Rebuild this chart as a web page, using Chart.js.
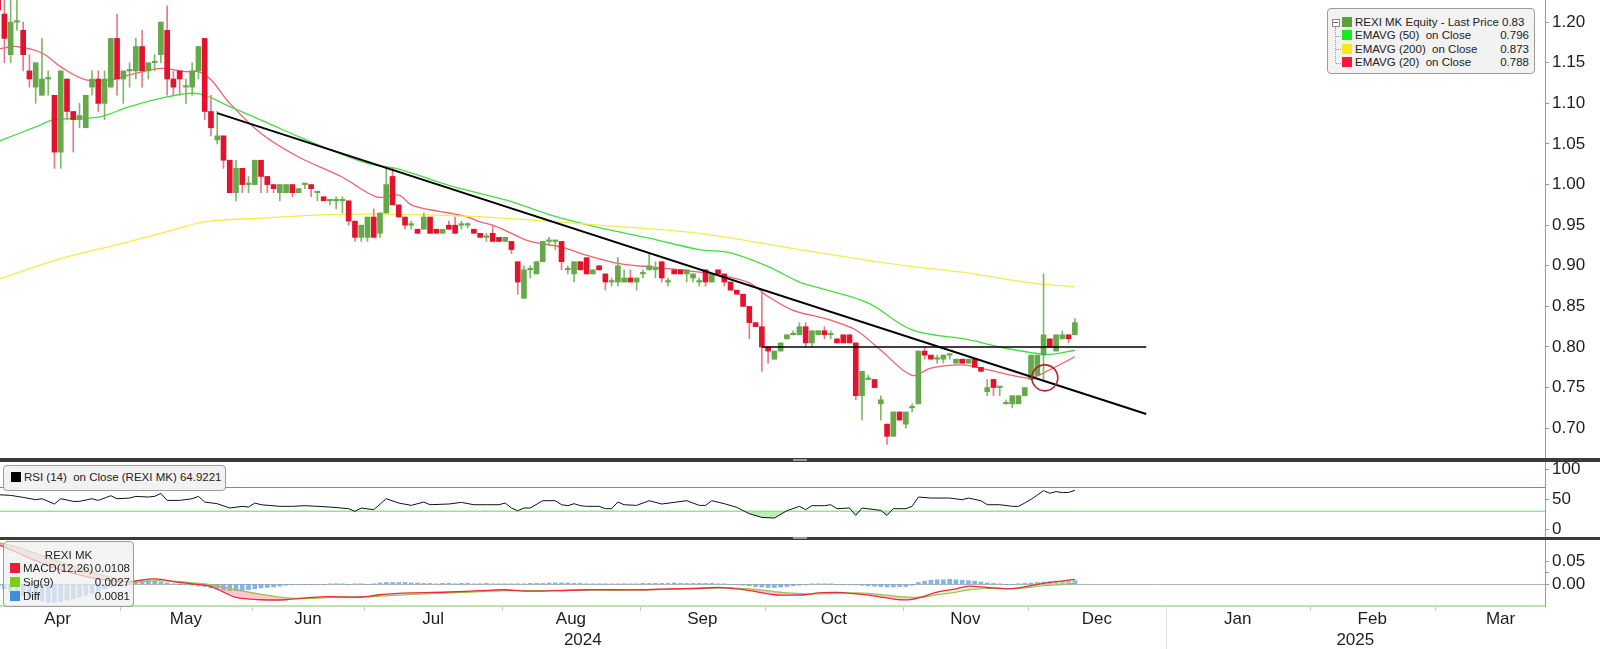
<!DOCTYPE html>
<html>
<head>
<meta charset="utf-8">
<script src="https://cdn.jsdelivr.net/npm/chart.js@4.4.1/dist/chart.umd.min.js"></script>
<style>
body { margin: 0; background: #fff; }
#wrap { position: relative; width: 1600px; height: 649px; overflow: hidden; font-family: 'Liberation Sans', Arial, sans-serif; color: #222; }
canvas { position: absolute; left: 0; }
.sep { position: absolute; left: 0; width: 1600px; background: #3a3a3a; }
.grip { position: absolute; left: 793px; width: 14px; height: 2px; background: #9a9a9a; }
.box { position: absolute; border: 1px solid #9c9c9c; border-radius: 4px; background: #f2f2f2; font-size: 11.5px; }
.row { position: absolute; left: 0; right: 0; height: 13px; line-height: 13px; white-space: pre; }
.sq { position: absolute; width: 10px; height: 10px; top: 1px; }
.val { position: absolute; right: 5px; top: 0; }
</style>
</head>
<body>
<div id="wrap">
  <canvas id="main" width="1600" height="458" style="top:0"></canvas>
  <div class="sep" style="top:458px;height:4px"></div>
  <div class="grip" style="top:459px"></div>
  <canvas id="rsi" width="1600" height="75" style="top:462px"></canvas>
  <div class="sep" style="top:537px;height:3px"></div>
  <div class="grip" style="top:537px"></div>
  <canvas id="macd" width="1600" height="109" style="top:540px"></canvas>

  <!-- price legend -->
  <div class="box" style="left:1327px;top:8px;width:206px;height:64px;">
    <div style="position:absolute;left:4px;top:10px;width:6px;height:6px;border:1px solid #888;background:#fff;"></div>
    <div style="position:absolute;left:5px;top:13px;width:5px;height:1px;background:#666;"></div>
    <div style="position:absolute;left:7px;top:18px;width:0;height:36px;border-left:1px dotted #999;"></div>
    <div style="position:absolute;left:8px;top:27px;width:5px;height:0;border-top:1px dotted #999;"></div>
    <div style="position:absolute;left:8px;top:40px;width:5px;height:0;border-top:1px dotted #999;"></div>
    <div style="position:absolute;left:8px;top:54px;width:5px;height:0;border-top:1px dotted #999;"></div>
    <div class="row" style="top:7px"><div class="sq" style="left:14px;background:#5f9d45"></div><span style="position:absolute;left:27px">REXI MK Equity - Last Price 0.83</span></div>
    <div class="row" style="top:20px"><div class="sq" style="left:14px;background:#1ee61e"></div><span style="position:absolute;left:27px">EMAVG (50)  on Close</span><span class="val">0.796</span></div>
    <div class="row" style="top:34px"><div class="sq" style="left:14px;background:#ffe51c"></div><span style="position:absolute;left:27px">EMAVG (200)  on Close</span><span class="val">0.873</span></div>
    <div class="row" style="top:47px"><div class="sq" style="left:14px;background:#ee1a3a"></div><span style="position:absolute;left:27px">EMAVG (20)  on Close</span><span class="val">0.788</span></div>
  </div>

  <!-- RSI legend -->
  <div class="box" style="left:3px;top:465px;width:221px;height:24px;">
    <div class="row" style="top:5px"><div class="sq" style="left:7px;background:#000"></div><span style="position:absolute;left:20px">RSI (14)  on Close (REXI MK) 64.9221</span></div>
  </div>

  <!-- MACD legend -->
  <div class="box" style="left:3px;top:541px;width:129px;height:64px;background:rgba(238,238,238,0.72);">
    <div class="row" style="top:7px;text-align:center">REXI MK</div>
    <div class="row" style="top:20px"><div class="sq" style="left:6px;background:#ee1a3a"></div><span style="position:absolute;left:19px">MACD(12,26)</span><span class="val" style="right:3px">0.0108</span></div>
    <div class="row" style="top:34px"><div class="sq" style="left:6px;background:#7ccc1e"></div><span style="position:absolute;left:19px">Sig(9)</span><span class="val" style="right:3px">0.0027</span></div>
    <div class="row" style="top:48px"><div class="sq" style="left:6px;background:#3f8fe0"></div><span style="position:absolute;left:19px">Diff</span><span class="val" style="right:3px">0.0081</span></div>
  </div>
</div>

<script>
// months shown on the time axis and trading days in each
var months = ["Apr", "May", "Jun", "Jul", "Aug", "Sep", "Oct", "Nov", "Dec", "Jan", "Feb", "Mar"];
var monthDays = [20, 21, 18, 22, 22, 20, 22, 20, 22, 23, 20, 21];
var years = ["2024", "2025"];
var yearFirstMonth = [0, 9];

// daily candles, one per trading day from early April 2024
var opens = [1.25,1.21,1.16,1.20,1.19,1.14,1.12,1.11,1.13,1.11,1.04,1.13,1.09,1.08,1.07,1.12,1.13,1.10,1.12,1.18,
  1.13,1.14,1.14,1.17,1.14,1.15,1.16,1.19,1.13,1.14,1.12,1.12,1.14,1.18,1.09,1.055,1.06,1.03,0.99,1.02,
  1.00,1.00,1.03,1.01,1.00,0.99,0.99,1.00,0.99,1.00,1.00,0.99,0.985,0.98,0.98,0.98,0.98,0.955,0.935,0.935,
  0.96,0.94,0.965,1.01,0.975,0.96,0.95,0.945,0.945,0.96,0.945,0.94,0.95,0.95,0.95,0.95,0.945,0.94,0.935,0.94,
  0.935,0.93,0.93,0.905,0.86,0.895,0.89,0.905,0.93,0.93,0.93,0.895,0.89,0.905,0.91,0.89,0.90,0.89,0.88,0.88,
  0.88,0.885,0.88,0.89,0.895,0.895,0.905,0.88,0.895,0.895,0.89,0.885,0.88,0.895,0.88,0.895,0.89,0.88,0.87,0.865,
  0.85,0.83,0.825,0.80,0.785,0.795,0.81,0.815,0.815,0.825,0.805,0.815,0.82,0.815,0.81,0.815,0.815,0.805,0.74,0.76,
  0.76,0.73,0.705,0.69,0.72,0.705,0.725,0.73,0.795,0.79,0.785,0.785,0.79,0.78,0.785,0.78,0.785,0.775,0.745,0.76,
  0.75,0.73,0.73,0.73,0.74,0.76,0.765,0.79,0.81,0.795,0.81,0.815,0.815];
var highs = [1.26,1.23,1.23,1.23,1.20,1.16,1.15,1.18,1.14,1.11,1.14,1.13,1.09,1.10,1.11,1.14,1.14,1.14,1.18,1.21,
  1.14,1.15,1.18,1.19,1.15,1.16,1.20,1.22,1.14,1.14,1.13,1.15,1.17,1.18,1.11,1.09,1.06,1.03,1.03,1.02,
  1.01,1.03,1.03,1.01,1.00,1.00,1.00,1.00,0.995,1.00,1.00,0.99,0.985,0.98,0.985,0.985,0.98,0.955,0.95,0.96,
  0.97,0.965,1.02,1.02,0.975,0.96,0.955,0.945,0.965,0.96,0.945,0.945,0.955,0.96,0.955,0.953,0.945,0.94,0.94,0.95,
  0.935,0.935,0.93,0.905,0.90,0.90,0.905,0.93,0.935,0.93,0.93,0.90,0.905,0.905,0.91,0.895,0.90,0.89,0.885,0.91,
  0.895,0.895,0.885,0.895,0.915,0.905,0.905,0.885,0.895,0.895,0.895,0.89,0.885,0.895,0.89,0.895,0.89,0.88,0.87,0.865,
  0.85,0.83,0.87,0.80,0.795,0.805,0.815,0.82,0.83,0.83,0.82,0.82,0.825,0.82,0.81,0.815,0.815,0.805,0.77,0.765,
  0.76,0.74,0.705,0.72,0.72,0.72,0.73,0.795,0.80,0.79,0.79,0.79,0.79,0.785,0.785,0.785,0.785,0.775,0.76,0.76,
  0.75,0.735,0.74,0.74,0.75,0.79,0.79,0.89,0.81,0.815,0.82,0.815,0.835];
var lows = [1.205,1.15,1.15,1.19,1.14,1.12,1.10,1.11,1.11,1.02,1.02,1.08,1.04,1.07,1.07,1.11,1.09,1.08,1.12,1.11,
  1.10,1.12,1.13,1.12,1.13,1.14,1.15,1.11,1.11,1.11,1.10,1.11,1.13,1.08,1.06,1.05,1.02,0.99,0.98,0.99,
  0.99,1.00,0.99,0.99,0.99,0.98,0.99,0.985,0.99,0.995,0.985,0.98,0.98,0.975,0.97,0.965,0.95,0.93,0.93,0.93,
  0.935,0.935,0.965,0.975,0.96,0.945,0.945,0.94,0.945,0.94,0.94,0.94,0.945,0.94,0.945,0.947,0.94,0.935,0.93,0.93,
  0.93,0.93,0.915,0.865,0.86,0.885,0.89,0.905,0.925,0.92,0.895,0.89,0.88,0.895,0.89,0.89,0.895,0.87,0.875,0.875,
  0.88,0.88,0.87,0.885,0.895,0.885,0.88,0.875,0.89,0.89,0.88,0.88,0.875,0.875,0.88,0.89,0.875,0.87,0.865,0.85,
  0.81,0.825,0.77,0.78,0.785,0.795,0.81,0.815,0.815,0.80,0.80,0.815,0.81,0.81,0.805,0.805,0.805,0.735,0.71,0.76,
  0.75,0.71,0.68,0.69,0.71,0.70,0.72,0.73,0.785,0.785,0.78,0.78,0.785,0.78,0.78,0.78,0.775,0.77,0.74,0.74,
  0.74,0.73,0.725,0.73,0.74,0.76,0.765,0.76,0.80,0.795,0.81,0.805,0.815];
var closes = [1.215,1.18,1.20,1.20,1.16,1.13,1.15,1.13,1.13,1.04,1.14,1.09,1.08,1.085,1.11,1.13,1.10,1.13,1.18,1.13,
  1.14,1.14,1.17,1.14,1.15,1.15,1.20,1.13,1.12,1.13,1.12,1.14,1.17,1.09,1.07,1.06,1.03,0.99,1.02,1.00,
  1.00,1.03,1.01,1.00,0.995,1.00,1.00,0.99,0.995,1.00,0.995,0.99,0.98,0.98,0.98,0.98,0.955,0.935,0.95,0.96,
  0.935,0.965,1.00,0.975,0.96,0.95,0.95,0.94,0.96,0.94,0.94,0.945,0.945,0.94,0.95,0.95,0.94,0.935,0.935,0.93,
  0.93,0.935,0.92,0.88,0.895,0.895,0.905,0.93,0.93,0.93,0.905,0.895,0.905,0.895,0.89,0.895,0.895,0.88,0.88,0.90,
  0.885,0.88,0.885,0.89,0.90,0.895,0.885,0.88,0.89,0.89,0.895,0.89,0.88,0.88,0.89,0.89,0.88,0.87,0.865,0.85,
  0.83,0.825,0.80,0.795,0.795,0.805,0.815,0.815,0.825,0.805,0.82,0.82,0.815,0.815,0.805,0.805,0.805,0.74,0.77,0.76,
  0.75,0.735,0.69,0.72,0.71,0.72,0.725,0.795,0.79,0.785,0.785,0.79,0.79,0.785,0.78,0.785,0.775,0.77,0.75,0.75,
  0.75,0.73,0.74,0.74,0.75,0.79,0.79,0.815,0.80,0.815,0.815,0.81,0.83];

// moving averages (day index, value)
var ema20X = [0,3,7,10,14,18,21,26,30,32,34,37,42,48,55,59,61,64,66,69,72,75,77,79,82,85,90,94,99,105,110,115,120,123,127,131,133,137,141,146,149,154,158,162,165,168,172];
var ema20 = [1.167,1.170,1.162,1.145,1.129,1.129,1.135,1.143,1.139,1.139,1.129,1.100,1.063,1.034,1.009,0.990,0.984,0.987,0.975,0.969,0.965,0.960,0.954,0.950,0.940,0.930,0.923,0.913,0.903,0.898,0.894,0.889,0.879,0.862,0.845,0.837,0.833,0.821,0.796,0.765,0.774,0.778,0.772,0.765,0.762,0.772,0.788];
var ema50X = [0,6,9,16,21,27,32,37,43,48,53,59,64,72,82,88,96,104,112,117,123,128,131,139,146,155,160,165,168,172];
var ema50 = [1.053,1.071,1.080,1.083,1.096,1.108,1.112,1.096,1.076,1.059,1.043,1.026,1.019,0.999,0.979,0.963,0.947,0.934,0.920,0.916,0.899,0.880,0.873,0.854,0.821,0.809,0.800,0.793,0.791,0.796];
var ema200X = [0,6,11,20,27,33,43,53,67,80,96,112,128,144,155,165,172];
var ema200 = [0.883,0.899,0.911,0.928,0.942,0.954,0.959,0.963,0.963,0.959,0.950,0.940,0.920,0.901,0.891,0.879,0.874];

// drawn annotations (day index, price)
var trendX = [35, 183.4];
var trendY = [1.088, 0.7175];
var supportX = [122, 183.4];
var supportY = [0.80, 0.80];
var circleX = [167.2];
var circleY = [0.762];

// RSI (14)
var rsiX = [0,2,4,6,7,9,10,12,13,15,16,18,19,21,22,24,25,26,27,29,31,32,33,35,37,39,40,41,42,45,47,49,51,53,56,57,58,60,62,64,66,68,69,72,74,76,78,80,81,82,83,84,85,87,89,90,91,92,93,94,96,97,98,99,100,102,104,106,108,110,112,113,114,116,118,120,122,124,126,128,129,130,132,133,134,136,137,138,141,142,143,145,146,147,149,152,154,155,157,158,160,162,163,164,165,166,167,168,169,170,171,172];
var rsiVals = [57.7,56.6,53.2,49.4,51.0,42.2,51.0,46.6,46.6,51.0,48.2,56.0,51.0,52.1,54.9,53.8,54.9,59.9,48.2,48.2,51.0,54.9,45.5,42.7,35.5,38.3,37.1,43.8,41.0,38.3,38.3,39.4,38.3,37.1,34.4,29.9,35.5,32.7,51.0,43.8,39.9,45.5,41.0,42.2,44.9,41.0,41.0,41.0,43.8,35.5,31.0,35.5,35.5,47.7,47.7,41.0,39.4,42.7,39.4,38.3,38.3,34.4,34.4,45.5,41.0,39.9,47.7,42.2,44.9,47.7,39.9,39.9,47.7,42.7,36.6,26.0,19.9,18.8,31.0,38.3,32.7,39.4,39.4,41.0,34.4,35.5,23.2,35.5,31.6,23.2,34.4,34.4,38.3,53.8,52.1,52.1,49.4,52.1,47.7,41.0,41.0,38.3,38.3,43.8,50.0,57.0,64.5,60.1,62.9,61.2,61.5,64.9];
var rsiUpper = 70;
var rsiLower = 30;

// MACD (12,26), signal (9) and their difference
var macdX = [0,3,6,9,12,15,18,21,25,29,31,34,38,42,46,50,53,58,61,66,72,77,81,84,89,94,103,107,111,115,118,121,124,126,129,131,134,137,139,142,144,146,148,150,153,155,158,161,163,165,167,169,171,172];
var macdVals = [0.088,0.070,0.052,0.036,0.024,0.014,0.008,0.006,0.012,0.004,0.001,-0.005,-0.029,-0.034,-0.034,-0.029,-0.027,-0.028,-0.023,-0.019,-0.017,-0.014,-0.012,-0.015,-0.014,-0.012,-0.012,-0.010,-0.009,-0.007,-0.010,-0.016,-0.023,-0.024,-0.023,-0.019,-0.018,-0.021,-0.024,-0.030,-0.034,-0.033,-0.026,-0.017,-0.010,-0.004,-0.007,-0.010,-0.008,-0.003,0.002,0.006,0.009,0.0108];
var sigVals = [0.092,0.082,0.068,0.054,0.040,0.027,0.015,0.005,0.008,0.006,0.003,-0.001,-0.012,-0.022,-0.030,-0.031,-0.029,-0.028,-0.026,-0.022,-0.019,-0.016,-0.014,-0.014,-0.014,-0.013,-0.012,-0.011,-0.010,-0.008,-0.009,-0.011,-0.016,-0.019,-0.021,-0.021,-0.020,-0.019,-0.020,-0.024,-0.027,-0.029,-0.028,-0.023,-0.017,-0.012,-0.009,-0.0095,-0.009,-0.006,-0.003,-0.001,0.001,0.0027];
var diffVals = [-0.006,-0.010,-0.015,-0.020,-0.025,-0.030,-0.034,-0.037,-0.040,-0.040,-0.038,-0.035,-0.032,-0.028,-0.024,-0.020,-0.015,-0.010,-0.006,-0.003,0.000,
  0.002,0.004,0.006,0.008,0.007,0.005,0.003,0.001,0.000,-0.001,-0.002,-0.004,
  -0.005,-0.008,-0.011,-0.013,-0.014,-0.014,-0.013,-0.012,-0.010,-0.008,-0.007,-0.006,-0.004,-0.002,
  -0.001,-0.001,-0.001,-0.001,-0.001,-0.001,0.001,0.001,0.001,0.000,0.001,0.001,0.000,0.001,
  0.003,0.004,0.004,0.004,0.004,0.003,0.003,
  0.002,0.002,0.001,0.002,0.002,0.001,0.002,0.002,0.001,0.001,0.002,0.001,0.001,0.001,0.001,0.001,0.001,0.002,0.002,0.002,
  0.003,0.003,0.003,0.003,0.002,0.002,
  0.001,0.001,0.001,0.001,0.001,0.001,0.001,0.001,0.001,
  0.002,0.002,0.002,0.002,0.002,0.003,0.002,0.002,0.002,0.002,0.002,0.002,0.001,0.001,
  0.000,-0.001,-0.002,
  -0.003,-0.005,-0.006,-0.007,-0.007,-0.006,-0.005,-0.003,-0.002,
  -0.001,0.001,0.001,0.001,0.001,0.000,-0.001,-0.001,-0.001,-0.002,
  -0.003,-0.004,-0.005,-0.006,-0.006,-0.005,-0.005,-0.002,
  0.004,0.007,0.009,0.010,0.010,0.011,0.010,0.009,0.008,0.007,0.005,0.003,0.002,
  0.001,0.000,-0.001,0.001,0.002,
  0.003,0.004,0.005,0.006,0.007,0.007,0.008,0.0081];

// axis ticks with labels
var priceTicks = [0.70, 0.75, 0.80, 0.85, 0.90, 0.95, 1.00, 1.05, 1.10, 1.15, 1.20];
var rsiTicks = [0, 50, 100];
var macdTicks = [0.00, 0.05];

Chart.defaults.font.family = "'Liberation Sans', Arial, sans-serif";
Chart.defaults.color = "#1e1e1e";

var GREEN = "#66a84a";
var RED = "#e3132d";
var AXIS = "#77b861";

function pts(xs, ys) {
  return xs.map(function (x, i) { return { x: x, y: ys[i] }; });
}

// labelled ticks plus one unlabelled tick halfway between each pair
function withMinor(list) {
  var t = [];
  list.forEach(function (v, i) {
    t.push({ value: v });
    if (i < list.length - 1) t.push({ value: (v + list[i + 1]) / 2 });
  });
  return t;
}

function yAxis(min, max, list, digits) {
  return {
    position: "right",
    min: min,
    max: max,
    afterFit: function (s) {
      s.width = 55;
      // keep the plot filling the panel; labels may sit near the edges
      s.paddingTop = 0;
      s.paddingBottom = 0;
    },
    afterBuildTicks: function (s) { s.ticks = withMinor(list); },
    border: { display: true, color: AXIS, width: 1 },
    grid: { display: true, drawOnChartArea: false, drawTicks: true, tickLength: 4, color: AXIS },
    ticks: {
      padding: 3,
      font: { size: 17 },
      color: "#1e1e1e",
      callback: function (v) {
        var hit = list.some(function (p) { return Math.abs(p - v) < 1e-9; });
        return hit ? v.toFixed(digits) : "";
      }
    }
  };
}

function xAxis() {
  return {
    type: "linear",
    min: 0.3,
    max: 247.1,
    offset: false,
    display: false,
    grid: { display: false }
  };
}

var baseOptions = {
  responsive: false,
  animation: false,
  events: [],
  devicePixelRatio: 1,
  layout: { padding: 0, autoPadding: false },
  plugins: { legend: { display: false }, tooltip: { enabled: false } }
};

function opts(scales) {
  var o = JSON.parse(JSON.stringify(baseOptions));
  o.scales = scales;
  return o;
}

// ---- price panel ----
var candleColors = closes.map(function (c, i) { return c >= opens[i] ? GREEN : RED; });
var wickColors = closes.map(function (c, i) { return c >= opens[i] ? "#7fb866" : "#e67a88"; });

new Chart(document.getElementById("main"), {
  type: "bar",
  data: {
    datasets: [
      { type: "line", data: pts(ema200X, ema200), borderColor: "#f3ec4a", borderWidth: 1.3, pointRadius: 0, tension: 0.35, order: 5 },
      { type: "line", data: pts(ema50X, ema50), borderColor: "#45dc45", borderWidth: 1.3, pointRadius: 0, tension: 0.35, order: 5 },
      { type: "line", data: pts(ema20X, ema20), borderColor: "#f0606e", borderWidth: 1.3, pointRadius: 0, tension: 0.35, order: 5 },
      {
        type: "bar", grouped: false, order: 4,
        data: lows.map(function (l, i) { return { x: i, y: [l, highs[i]] }; }),
        backgroundColor: wickColors, barThickness: 1, borderWidth: 0
      },
      {
        type: "bar", grouped: false, order: 3, minBarLength: 1.5,
        data: opens.map(function (o, i) { return { x: i, y: [o, closes[i]] }; }),
        backgroundColor: candleColors, barThickness: 5, borderWidth: 0
      },
      { type: "line", data: pts(trendX, trendY), borderColor: "#000", borderWidth: 2, pointRadius: 0, order: 1 },
      { type: "line", data: pts(supportX, supportY), borderColor: "#000", borderWidth: 1.6, pointRadius: 0, order: 1 },
      {
        type: "line", data: pts(circleX, circleY), showLine: false, order: 0,
        pointRadius: 13, pointBorderColor: "#b3262c", pointBackgroundColor: "rgba(0,0,0,0)", pointBorderWidth: 1.6
      }
    ]
  },
  options: opts({ x: xAxis(), y: yAxis(0.6633, 1.2273, priceTicks, 2) })
});

// ---- RSI panel ----
var rsiLines = {
  id: "rsiLines",
  beforeDatasetsDraw: function (chart) {
    var a = chart.chartArea, y = chart.scales.y, ctx = chart.ctx;
    ctx.save();
    ctx.lineWidth = 1;
    ctx.strokeStyle = "#e06070";
    ctx.beginPath();
    ctx.moveTo(a.left, Math.round(y.getPixelForValue(rsiUpper)) + 0.5);
    ctx.lineTo(a.right, Math.round(y.getPixelForValue(rsiUpper)) + 0.5);
    ctx.stroke();
    ctx.strokeStyle = "#9be39b";
    ctx.lineWidth = 1.5;
    ctx.beginPath();
    ctx.moveTo(a.left, y.getPixelForValue(rsiLower));
    ctx.lineTo(a.right, y.getPixelForValue(rsiLower));
    ctx.stroke();
    ctx.restore();
  }
};

new Chart(document.getElementById("rsi"), {
  type: "line",
  data: {
    datasets: [{
      data: pts(rsiX, rsiVals), borderColor: "#111", borderWidth: 1, pointRadius: 0,
      fill: { target: { value: rsiLower }, above: "rgba(0,0,0,0)", below: "rgba(130,225,130,0.55)" }
    }]
  },
  options: opts({ x: xAxis(), y: yAxis(-12.8, 112.2, rsiTicks, 0) }),
  plugins: [rsiLines]
});

// ---- MACD panel with the time axis ----
var monthStart = [];
var acc = -0.5;
monthDays.forEach(function (d) { monthStart.push(acc); acc += d; });
var monthCenters = monthStart.map(function (s, i) { return s + monthDays[i] / 2; });

var macdDecor = {
  id: "macdDecor",
  beforeDatasetsDraw: function (chart) {
    var a = chart.chartArea, y = chart.scales.y, ctx = chart.ctx;
    ctx.save();
    ctx.strokeStyle = "#b4b4b4";
    ctx.lineWidth = 1;
    var py = Math.round(y.getPixelForValue(0)) + 0.5;
    ctx.beginPath();
    ctx.moveTo(a.left, py);
    ctx.lineTo(a.right, py);
    ctx.stroke();
    ctx.restore();
  },
  afterDraw: function (chart) {
    var a = chart.chartArea, x = chart.scales.x, ctx = chart.ctx;
    ctx.save();
    monthStart.forEach(function (s, i) {
      var px = Math.round(x.getPixelForValue(s)) + 0.5;
      if (px < a.left || px > a.right) return;
      var isYear = yearFirstMonth.indexOf(i) > 0;
      ctx.strokeStyle = isYear ? "#e2e2e2" : "#c9c9c9";
      ctx.lineWidth = 1;
      ctx.beginPath();
      ctx.moveTo(px, a.bottom + 1);
      ctx.lineTo(px, isYear ? chart.height : a.bottom + 5);
      ctx.stroke();
    });
    ctx.fillStyle = "#1e1e1e";
    ctx.font = "17px 'Liberation Sans', Arial, sans-serif";
    ctx.textAlign = "center";
    ctx.textBaseline = "middle";
    years.forEach(function (label, k) {
      var from = Math.max(a.left, x.getPixelForValue(monthStart[yearFirstMonth[k]]));
      var endIdx = k + 1 < years.length ? monthStart[yearFirstMonth[k + 1]] : acc;
      var to = Math.min(a.right, x.getPixelForValue(endIdx));
      ctx.fillText(label, (from + to) / 2, 100);
    });
    ctx.restore();
  }
};

var macdX0 = xAxis();
macdX0.display = true;
macdX0.afterFit = function (s) { s.height = 43; s.paddingLeft = 0; s.paddingRight = 0; };
macdX0.afterBuildTicks = function (s) { s.ticks = monthCenters.map(function (v) { return { value: v }; }); };
macdX0.border = { display: true, color: "#bfe3b0", width: 2 };
macdX0.grid = { display: false, drawTicks: false };
macdX0.ticks = {
  autoSkip: false, maxRotation: 0, padding: 3, font: { size: 17 }, color: "#1e1e1e",
  callback: function (v, i) { return months[i]; }
};

new Chart(document.getElementById("macd"), {
  type: "bar",
  data: {
    datasets: [
      {
        type: "bar", order: 3,
        data: diffVals.map(function (v, i) { return { x: i, y: v }; }),
        backgroundColor: "rgba(80,150,225,0.7)", barThickness: 4, borderWidth: 0
      },
      {
        type: "line", order: 1, data: pts(macdX, macdVals), borderColor: "#ec2a3c", borderWidth: 1.3, pointRadius: 0, tension: 0.3,
        fill: { target: 2, above: "rgba(200,235,170,0.45)", below: "rgba(240,150,160,0.5)" }
      },
      { type: "line", order: 2, data: pts(macdX, sigVals), borderColor: "#8cc63c", borderWidth: 1.3, pointRadius: 0, tension: 0.3 }
    ]
  },
  options: opts({ x: macdX0, y: yAxis(-0.0478, 0.0976, macdTicks, 2) }),
  plugins: [macdDecor]
});
</script>
</body>
</html>
